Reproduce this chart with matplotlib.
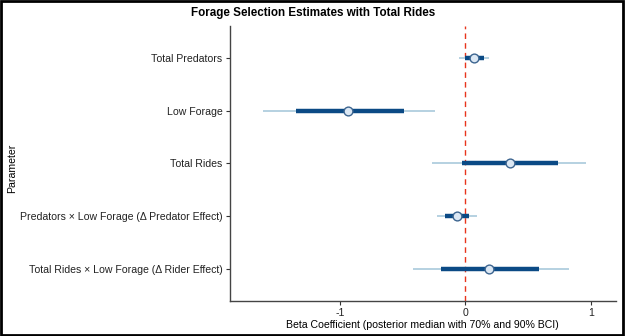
import matplotlib
matplotlib.use("Agg")
import matplotlib.pyplot as plt
from matplotlib import font_manager
from matplotlib.patches import Rectangle

names = {f.name for f in font_manager.fontManager.ttflist}
narrow = 'Liberation Sans Narrow' in names
plt.rcParams['font.family'] = ['Liberation Sans Narrow' if narrow else 'Liberation Sans', 'DejaVu Sans']
fs = 8.7 if narrow else 7.6
tfs = 9.8 if narrow else 8.4

# parametri, dari atas ke bawah
params = ["Total Predators",
          "Low Forage",
          "Total Rides",
          "Predators \u00d7 Low Forage (\u0394 Predator Effect)",
          "Total Rides \u00d7 Low Forage (\u0394 Rider Effect)"]
median = [0.072, -0.932, 0.359, -0.069, 0.191]
lo90 = [-0.05, -1.61, -0.265, -0.225, -0.414]
hi90 = [0.19, -0.239, 0.959, 0.091, 0.829]
lo70 = [0.0, -1.347, -0.026, -0.162, -0.194]
hi70 = [0.147, -0.488, 0.736, 0.032, 0.589]

fig = plt.figure(figsize=(6.26, 3.36), dpi=100)
ax = fig.add_axes([229.5/626, 1 - 300.7/336, (616 - 229.5)/626, (300.7 - 26)/336])

ypos = list(range(len(params), 0, -1))

ax.axvline(0, color='#e8341c', linestyle=(0, (4, 3)), linewidth=1.0, zorder=1)
ax.hlines(ypos, lo90, hi90, color='#a9cadc', linewidth=1.2, zorder=2)
ax.hlines(ypos, lo70, hi70, color='#0b4a85', linewidth=3.2, zorder=3)
ax.scatter(median, ypos, s=40, facecolor='#dce8f4', edgecolor='#3d6590',
           linewidth=1.0, zorder=4)

ax.set_xlim(-1.879, 1.2)
ax.set_ylim(0.4, 5.6)
ax.set_xticks([-1, 0, 1])
ax.set_xticklabels(['-1', '0', '1'])
ax.set_yticks(ypos)
ax.set_yticklabels(params)
ax.tick_params(labelsize=fs, length=3, width=0.8, color='#333333', labelcolor='#222222', pad=2)

for s in ['top', 'right']:
    ax.spines[s].set_visible(False)
for s in ['left', 'bottom']:
    ax.spines[s].set_color('#444444')
    ax.spines[s].set_linewidth(1.0)

ax.set_xlabel('Beta Coefficient (posterior median with 70% and 90% BCI)', fontsize=fs, labelpad=2)
fig.text(12/626, 0.5, 'Parameter', rotation=90, va='center', ha='center', fontsize=fs)
fig.text(0.5, 1 - 13/336, 'Forage Selection Estimates with Total Rides', ha='center', va='center',
         fontsize=tfs, fontweight='bold')

# bingkai hitam
fig.patches.append(Rectangle((0.002, 0.003), 0.994, 0.994, transform=fig.transFigure,
                             fill=False, edgecolor='black', linewidth=2))

fig.savefig('out.png', dpi=100)
